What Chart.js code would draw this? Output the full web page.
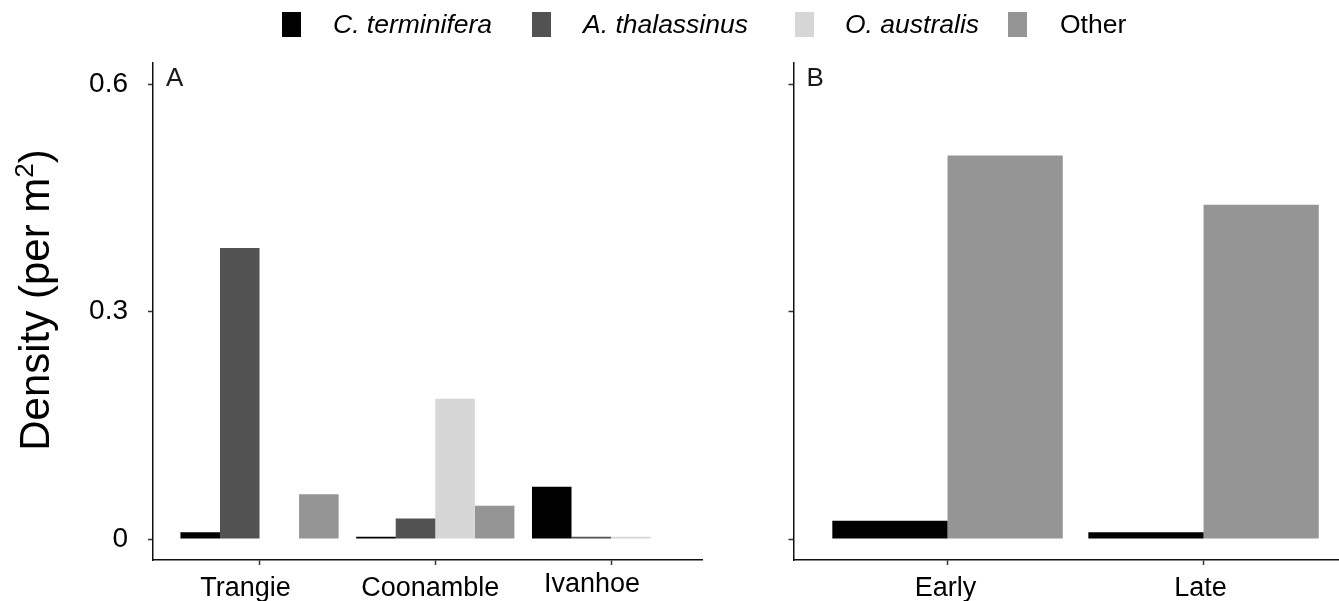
<!DOCTYPE html>
<html>
<head>
<meta charset="utf-8">
<script src="https://cdn.jsdelivr.net/npm/chart.js@4/dist/chart.umd.min.js"></script>
<style>
  html, body { margin: 0; padding: 0; background: #fff; }
  #wrap { position: relative; width: 1339px; height: 601px; overflow: hidden; font-family: "Liberation Sans", Arial, sans-serif; }
  #cA { position: absolute; left: 0; top: 0; }
  #cB { position: absolute; left: 720px; top: 0; }
  .sw { position: absolute; top: 12px; width: 19px; height: 25px; }
  .lt { position: absolute; top: 8px; font-size: 26.5px; line-height: 32px; font-style: italic; color: #000; white-space: nowrap; }
</style>
</head>
<body>
<div id="wrap">
  <canvas id="cA" width="703" height="601"></canvas>
  <canvas id="cB" width="619" height="601"></canvas>
  <div id="legend"></div>
</div>
<script>
// Species groups and their fills
const species = ['C. terminifera', 'A. thalassinus', 'O. australis', 'Other'];
const speciesItalic = [true, true, true, false];
const fills = ['#000000', '#525252', '#d6d6d6', '#959595'];

// Panel A: density by site
const sites = ['Trangie', 'Coonamble', 'Ivanhoe'];
const siteCTerminifera = [0.009, 0.003, 0.069];
const siteAThalassinus = [0.384, 0.027, 0.003];
const siteOAustralis   = [0.000, 0.185, 0.003];
const siteOther        = [0.059, 0.044, 0.000];

// Panel B: density by season
const seasons = ['Early', 'Late'];
const seasonCTerminifera = [0.024, 0.009];
const seasonOther        = [0.506, 0.441];

// Shared y axis
const yTickValues = [0, 0.3, 0.6];
const yTickLabels = ['0', '0.3', '0.6'];
const yMin = -0.0277, yMax = 0.628;

// Legend (HTML)
const legendX = [[282, 333], [532, 583], [795, 845], [1008, 1060]];
const legend = document.getElementById('legend');
species.forEach((name, i) => {
  const sw = document.createElement('div');
  sw.className = 'sw';
  sw.style.left = legendX[i][0] + 'px';
  sw.style.background = fills[i];
  legend.appendChild(sw);
  const t = document.createElement('div');
  t.className = 'lt';
  t.style.left = legendX[i][1] + 'px';
  if (!speciesItalic[i]) t.style.fontStyle = 'normal';
  t.textContent = name;
  legend.appendChild(t);
});

const FONT = '"Liberation Sans", Arial, sans-serif';

function toPoints(arr) { return arr.map((v, i) => ({ x: i, y: v })); }

function makeDatasets(series) {
  return series.map(s => ({
    label: species[s.idx],
    data: toPoints(s.values),
    backgroundColor: fills[s.idx],
    borderWidth: 0,
    categoryPercentage: 0.9,
    barPercentage: 1.0
  }));
}

// Panel letter, category labels under the x axis and the y-axis title
function panelDecor(letter, cats, nudges, withTitle) {
  return {
    id: 'panelDecor' + letter,
    afterDraw(chart) {
      const ctx = chart.ctx;
      const a = chart.chartArea;
      const xs = chart.scales.x;
      ctx.save();
      ctx.fillStyle = '#1a1a1a';
      ctx.font = '26px ' + FONT;
      ctx.textAlign = 'left';
      ctx.textBaseline = 'top';
      ctx.fillText(letter, a.left + 13, a.top + 3);

      ctx.fillStyle = '#000';
      ctx.font = '27px ' + FONT;
      ctx.textAlign = 'center';
      ctx.textBaseline = 'alphabetic';
      cats.forEach((c, i) => {
        ctx.fillText(c, xs.getPixelForValue(i) + nudges[i][0], 596 + nudges[i][1]);
      });

      if (withTitle) {
        const big = '42px ' + FONT, small = '26px ' + FONT;
        const p1 = 'Density (per m', p2 = '2', p3 = ')';
        ctx.font = big; const w1 = ctx.measureText(p1).width; const w3 = ctx.measureText(p3).width;
        ctx.font = small; const w2 = ctx.measureText(p2).width;
        const total = w1 + w2 + w3;
        ctx.translate(49, 300);
        ctx.rotate(-Math.PI / 2);
        ctx.textAlign = 'left';
        let x = -total / 2;
        ctx.font = big; ctx.fillText(p1, x, 0); x += w1;
        ctx.font = small; ctx.fillText(p2, x, -16); x += w2;
        ctx.font = big; ctx.fillText(p3, x, 0);
      }
      ctx.restore();
    }
  };
}

function makeOptions(cats, xMin, xMax, yWidth, showYLabels) {
  return {
    responsive: false,
    animation: false,
    layout: { padding: { top: 63, right: 0, bottom: 0, left: 0 } },
    plugins: { legend: { display: false }, tooltip: { enabled: false } },
    scales: {
      x: {
        type: 'linear',
        min: xMin,
        max: xMax,
        offset: false,
        afterBuildTicks: s => { s.ticks = cats.map((c, i) => ({ value: i })); },
        afterFit: s => { s.height = 41; },
        ticks: { display: false },
        grid: { display: true, drawOnChartArea: false, drawTicks: true, tickLength: 5, tickColor: '#333', tickWidth: 1.5, offset: false },
        border: { display: true, color: '#111', width: 1.5 }
      },
      y: {
        min: yMin,
        max: yMax,
        afterBuildTicks: s => { s.ticks = yTickValues.map(v => ({ value: v })); },
        afterFit: s => { s.width = yWidth; },
        ticks: {
          display: showYLabels,
          callback: v => yTickLabels[yTickValues.indexOf(v)],
          color: '#000',
          font: { family: FONT, size: 28 },
          padding: 20
        },
        grid: { display: true, drawOnChartArea: false, drawTicks: true, tickLength: 5, tickColor: '#333', tickWidth: 1.5 },
        border: { display: true, color: '#111', width: 1.5 }
      }
    }
  };
}

new Chart(document.getElementById('cA'), {
  type: 'bar',
  data: {
    datasets: makeDatasets([
      { idx: 0, values: siteCTerminifera },
      { idx: 1, values: siteAThalassinus },
      { idx: 2, values: siteOAustralis },
      { idx: 3, values: siteOther }
    ])
  },
  options: makeOptions(sites, -0.606, 2.523, 153, true),
  plugins: [panelDecor('A', sites, [[-14, 0], [-5, 0], [-19, -4]], true)]
});

new Chart(document.getElementById('cB'), {
  type: 'bar',
  data: {
    datasets: makeDatasets([
      { idx: 0, values: seasonCTerminifera },
      { idx: 3, values: seasonOther }
    ])
  },
  options: makeOptions(seasons, -0.6016, 1.529, 73.5, false),
  plugins: [panelDecor('B', seasons, [[-2, 0], [-3, 0]], false)]
});
</script>
</body>
</html>
